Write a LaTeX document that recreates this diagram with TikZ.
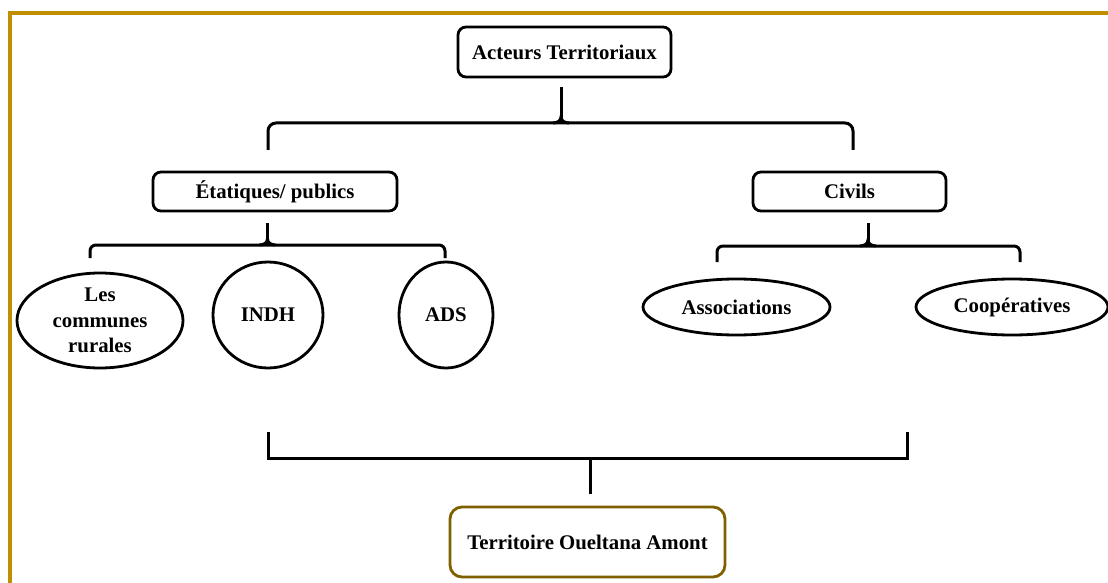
\documentclass[tikz,border=0pt]{standalone}
\usepackage{fontspec}
\setmainfont{Liberation Serif}
\usetikzlibrary{shapes.geometric}
\definecolor{cadre}{HTML}{BF8F00}
\definecolor{brun}{HTML}{7F6000}
\tikzset{
  boite/.style={draw, rounded corners=4pt, line width=1.4pt, inner sep=0pt},
  bulle/.style={draw, ellipse, line width=1.4pt, align=center, inner sep=0pt},
  lien/.style={line width=1.5pt},
}
\begin{document}
\begin{tikzpicture}[x=0.5pt, y=-0.5pt, every node/.style={font=\fontsize{10.4}{12.8}\selectfont\bfseries}]
        \useasboundingbox (0,0) rectangle (1108,583);

        % Cadre
        \draw[cadre, line width=2pt] (10.3,583) -- (10.3,13.3) -- (1108,13.3);

        % Boites
        \node[boite, minimum width=106.5pt, minimum height=25pt] (acteurs) at (564.5,52) {Acteurs Territoriaux};
        \node[boite, minimum width=122pt, minimum height=19.5pt] (etat) at (275,191.5) {Étatiques/ publics};
        \node[boite, minimum width=96.5pt, minimum height=19.5pt] (civils) at (849.5,191.5) {Civils};
        \node[boite, draw=brun, rounded corners=6pt, minimum width=137.5pt, minimum height=35pt] (terr) at (587.5,542) {Territoire Ouelt{}ana Amont};

        % Bulles
        \node[bulle, minimum width=83pt, minimum height=47.5pt] (communes) at (100,320.5) {Les\\communes\\rurales};
        \node[bulle, minimum width=55pt, minimum height=53pt] (indh) at (268,315) {INDH};
        \node[bulle, minimum width=47pt, minimum height=53pt] (ads) at (446,315) {ADS};
        \node[bulle, minimum width=93.5pt, minimum height=28pt] (assoc) at (736.5,307) {Associations};
        \node[bulle, minimum width=96pt, minimum height=28pt] (coop) at (1012,307) {Coopératives};

        % Accolades
        \coordinate (ja) at (561,123);
        \coordinate (ea) at (268,150);
        \coordinate (eb) at (853,150);
        \draw[lien, rounded corners=4pt] (ea) |- (ja) -| (eb);
        \draw[lien, shorten >=4.5pt] (ja) -- (ja |- acteurs.south);
        \draw[lien] ([xshift=-4pt]ja) to[out=0,in=-90] ([yshift=3pt]ja) to[out=-90,in=180] ([xshift=4pt]ja);

        \coordinate (jb) at (267.5,245);
        \coordinate (ec) at (90,258);
        \coordinate (ed) at (445,258);
        \draw[lien, rounded corners=3pt] (ec) |- (jb) -| (ed);
        \draw[lien, shorten >=5.5pt] (jb) -- (jb |- etat.south);
        \draw[lien] ([xshift=-4pt]jb) to[out=0,in=-90] ([yshift=3pt]jb) to[out=-90,in=180] ([xshift=4pt]jb);

        \coordinate (jc) at (868,246);
        \coordinate (ee) at (717,262);
        \coordinate (ef) at (1020,262);
        \draw[lien, rounded corners=3pt] (ee) |- (jc) -| (ef);
        \draw[lien, shorten >=5.5pt] (jc) -- (jc |- civils.south);
        \draw[lien] ([xshift=-4pt]jc) to[out=0,in=-90] ([yshift=3pt]jc) to[out=-90,in=180] ([xshift=4pt]jc);

        \coordinate (jd) at (590.5,458.5);
        \coordinate (eg) at (268,432);
        \coordinate (eh) at (907,432);
        \draw[lien] (eg) |- (jd) -| (eh);
        \draw[lien, shorten >=6pt] (jd) -- (jd |- terr.north);
    \end{tikzpicture}
\end{document}
